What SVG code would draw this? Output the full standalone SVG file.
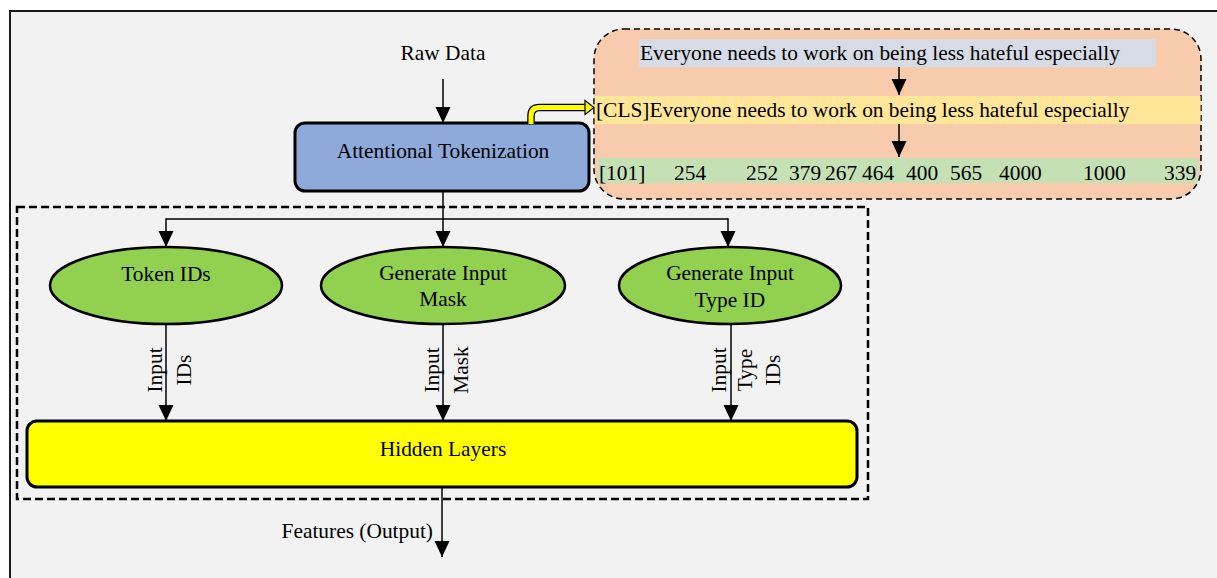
<svg xmlns="http://www.w3.org/2000/svg" width="1217" height="578" viewBox="0 0 1217 578">
  <style>
    text { font-family: "Liberation Serif", "Times New Roman", serif; font-size: 21.4px; fill: #000; }
    .mid { text-anchor: middle; }
    .conn { stroke: #000; stroke-width: 1.5; fill: none; }
    .ell { fill: #92d050; stroke: #000; stroke-width: 2.5; }
  </style>
  <defs>
    <marker id="ah" markerUnits="userSpaceOnUse" markerWidth="16" markerHeight="16" refX="16" refY="7.5" orient="auto" viewBox="0 0 16 15">
      <path d="M0,0 L16,7.5 L0,15 Z" fill="#000"/>
    </marker>
  </defs>

  <rect id="frame" x="10" y="11" width="1220" height="580" fill="#f2f2f2" stroke="#1a1a1a" stroke-width="2"/>

  <g id="container">
    <rect x="17" y="207" width="851" height="292" fill="none" stroke="#000" stroke-width="2.5" stroke-dasharray="8,4"/>
  </g>

  <g id="raw-data">
    <text class="mid" x="443" y="60">Raw Data</text>
  </g>

  <g id="tokenization">
    <rect x="295" y="123" width="294" height="68" rx="10" fill="#8eaadb" stroke="#000" stroke-width="3"/>
    <text class="mid" x="443" y="158">Attentional Tokenization</text>
  </g>

  <g id="example-panel">
    <rect x="594" y="29" width="607" height="170" rx="30" fill="#f8cbad" stroke="#000" stroke-width="1.5" stroke-dasharray="6,4"/>
    <rect x="639" y="39" width="517" height="28" fill="#d6dce5"/>
    <text x="640" y="60">Everyone needs to work on being less hateful especially</text>
    <rect x="594.8" y="96" width="405" height="28" fill="#ffe699"/>
    <rect x="999" y="96" width="201.5" height="28" fill="#ffe699"/>
    <text x="596" y="117">[CLS]Everyone needs to work on being less hateful especially</text>
    <rect x="598" y="158" width="600" height="25" fill="#c5e0b4"/>
    <text y="180"><tspan x="599">[101]</tspan><tspan x="674">254</tspan><tspan x="746">252</tspan><tspan x="789">379</tspan><tspan x="825">267</tspan><tspan x="862">464</tspan><tspan x="906">400</tspan><tspan x="950">565</tspan><tspan x="999">4000</tspan><tspan x="1083">1000</tspan><tspan x="1164">339</tspan></text>
  </g>

  <g id="token-ids">
    <ellipse class="ell" cx="166" cy="285.5" rx="116" ry="38.5"/>
    <text class="mid" x="166" y="281">Token IDs</text>
  </g>

  <g id="input-mask">
    <ellipse class="ell" cx="443" cy="285.5" rx="122" ry="38.5"/>
    <text class="mid" x="443" y="280">Generate Input</text>
    <text class="mid" x="443" y="306">Mask</text>
  </g>

  <g id="type-id">
    <ellipse class="ell" cx="730" cy="285.5" rx="111" ry="38.5"/>
    <text class="mid" x="730" y="280">Generate Input</text>
    <text class="mid" x="730" y="307">Type ID</text>
  </g>

  <g id="hidden-layers">
    <rect x="27" y="421" width="830" height="66" rx="10" fill="#ffff00" stroke="#000" stroke-width="3"/>
    <text class="mid" x="443" y="456">Hidden Layers</text>
  </g>

  <g id="connectors">
    <line class="conn" x1="443" y1="79" x2="443" y2="123" marker-end="url(#ah)"/>
    <path d="M531,123 V116 Q531,107.5 539.5,107.5 H587" fill="none" stroke="#000" stroke-width="7.5"/>
    <path d="M531,124 V116 Q531,107.5 539.5,107.5 H588" fill="none" stroke="#ffff00" stroke-width="5"/>
    <polygon points="585,100.5 594,107.5 585,114.5" fill="#ffff00" stroke="#000" stroke-width="1.2"/>
    <line class="conn" x1="899" y1="67" x2="899" y2="95" marker-end="url(#ah)"/>
    <line class="conn" x1="899" y1="124" x2="899" y2="157" marker-end="url(#ah)"/>

    <line class="conn" x1="443" y1="191" x2="443" y2="247" marker-end="url(#ah)"/>
    <line class="conn" x1="166" y1="219" x2="728" y2="219"/>
    <line class="conn" x1="166" y1="218.3" x2="166" y2="247" marker-end="url(#ah)"/>
    <line class="conn" x1="728" y1="218.3" x2="728" y2="247" marker-end="url(#ah)"/>

    <line class="conn" x1="166" y1="324" x2="166" y2="421" marker-end="url(#ah)"/>
    <line class="conn" x1="443" y1="324" x2="443" y2="421" marker-end="url(#ah)"/>
    <line class="conn" x1="731" y1="324" x2="731" y2="421" marker-end="url(#ah)"/>
    <line class="conn" x1="442" y1="487" x2="442" y2="557" marker-end="url(#ah)"/>

    <text class="mid" transform="translate(162,370) rotate(-90)"><tspan x="0" y="0">Input</tspan><tspan x="0" y="29">IDs</tspan></text>
    <text class="mid" transform="translate(439,370) rotate(-90)"><tspan x="0" y="0">Input</tspan><tspan x="0" y="29">Mask</tspan></text>
    <text class="mid" transform="translate(726,370) rotate(-90)"><tspan x="0" y="0">Input</tspan><tspan x="0" y="26">Type</tspan><tspan x="0" y="54">IDs</tspan></text>
    <text x="433" y="538" text-anchor="end">Features (Output)</text>
  </g>
</svg>
